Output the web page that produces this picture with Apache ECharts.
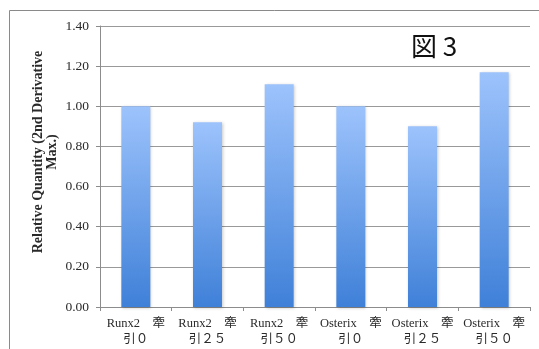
<!DOCTYPE html>
<html>
<head>
<meta charset="utf-8">
<script src="https://cdn.jsdelivr.net/npm/echarts@6/dist/echarts.min.js"></script>
<style>
  html, body { margin: 0; padding: 0; background: #fff; }
  #chart { width: 539px; height: 349px; }
</style>
</head>
<body>
<div id="chart"></div>
<script>
// Relative expression of Runx2 / Osterix under each traction condition
const categories = [
  'Runx2　牽\n引０',
  'Runx2　牽\n引２５',
  'Runx2　牽\n引５０',
  'Osterix　牽\n引０',
  'Osterix　牽\n引２５',
  'Osterix　牽\n引５０'
];
const relativeQuantity = [1.00, 0.92, 1.11, 1.00, 0.90, 1.17];
const yTicks = { min: 0, max: 1.4, interval: 0.2 };

const serif = '"Liberation Serif", "DejaVu Serif", "Noto Sans CJK JP", serif';
const chart = echarts.init(document.getElementById('chart'), null, { renderer: 'canvas' });

chart.setOption({
  animation: false,
  backgroundColor: '#fff',
  grid: { left: 100, right: 9, top: 26, bottom: 42, containLabel: false },
  xAxis: {
    type: 'category',
    data: categories,
    axisLine: { show: true, lineStyle: { color: '#8c8c8c', width: 1 } },
    axisTick: { show: true, alignWithLabel: false, length: 4, lineStyle: { color: '#8c8c8c' } },
    axisLabel: {
      interval: 0,
      margin: 9,
      color: '#2a2a2a',
      fontFamily: serif,
      fontSize: 12.5,
      lineHeight: 16
    }
  },
  yAxis: {
    type: 'value',
    min: yTicks.min,
    max: yTicks.max,
    interval: yTicks.interval,
    axisLine: { show: true, lineStyle: { color: '#8c8c8c', width: 1 } },
    axisTick: { show: true, length: 4, inside: false, lineStyle: { color: '#8c8c8c' } },
    splitLine: { show: true, lineStyle: { color: '#999', width: 1 } },
    axisLabel: {
      margin: 11,
      color: '#2a2a2a',
      fontFamily: serif,
      fontSize: 13.5,
      formatter: v => v.toFixed(2)
    }
  },
  series: [{
    type: 'bar',
    data: relativeQuantity,
    barWidth: 29,
    itemStyle: {
      color: new echarts.graphic.LinearGradient(0, 0, 0, 1, [
        { offset: 0, color: '#9dc3fc' },
        { offset: 1, color: '#3f80d8' }
      ]),
      shadowColor: 'rgba(0,0,0,0.22)',
      shadowBlur: 3,
      shadowOffsetX: 1,
      shadowOffsetY: 1
    }
  }],
  graphic: [
    {
      type: 'rect',
      silent: true,
      shape: { x: 9.5, y: 10.5, width: 600, height: 400 },
      style: { fill: 'none', stroke: '#8a8a8a', lineWidth: 1 },
      z: -1
    },
    {
      type: 'text',
      x: 45,
      y: 152,
      rotation: Math.PI / 2,
      style: {
        text: 'Relative Quantity (2nd Derivative\nMax.)',
        font: 'bold 14px ' + serif,
        fill: '#2a2a2a',
        align: 'center',
        verticalAlign: 'middle',
        lineHeight: 14
      }
    },
    {
      type: 'text',
      x: 411,
      y: 46,
      style: {
        text: '図 3',
        font: '26px "Noto Sans CJK JP", "Noto Sans", sans-serif',
        fill: '#111',
        align: 'left',
        verticalAlign: 'middle'
      }
    }
  ]
});
</script>
</body>
</html>
